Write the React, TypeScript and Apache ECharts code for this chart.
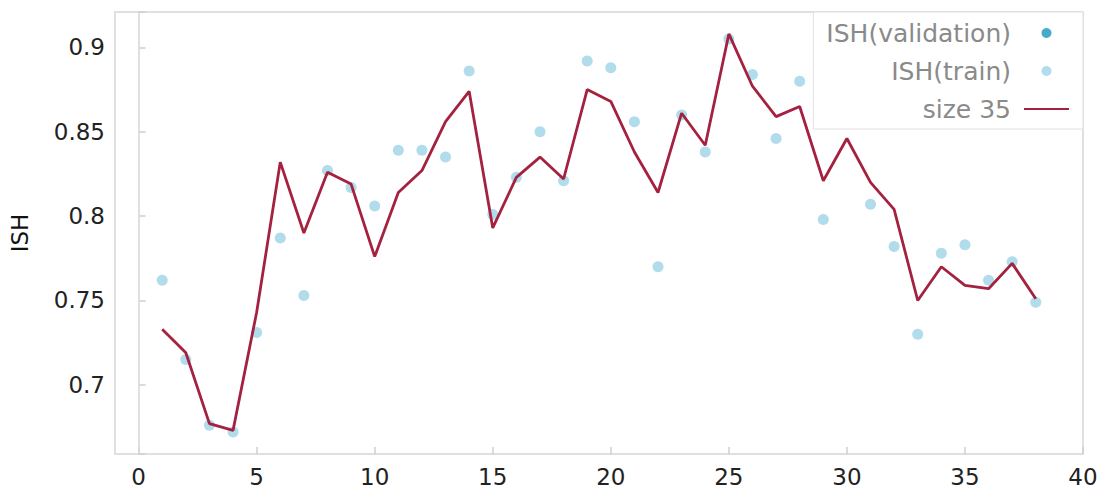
import React, { useEffect, useRef } from "react";
import * as echarts from "echarts";

const xValues = [1,2,3,4,5,6,7,8,9,10,11,12,13,14,15,16,17,18,19,20,21,22,23,24,25,26,27,28,29,30,31,32,33,34,35,36,37,38];
const trainValues = [0.762,0.715,0.676,0.672,0.731,0.787,0.753,0.827,0.817,0.806,0.839,0.839,0.835,0.886,0.801,0.823,0.850,0.821,0.892,0.888,0.856,0.770,0.860,0.838,0.905,0.884,0.846,0.880,0.798,0.855,0.807,0.782,0.730,0.778,0.783,0.762,0.773,0.749];
const size35Values = [0.733,0.719,0.677,0.673,0.743,0.832,0.790,0.826,0.819,0.776,0.814,0.827,0.856,0.874,0.793,0.823,0.835,0.822,0.875,0.868,0.838,0.814,0.861,0.842,0.908,0.877,0.859,0.865,0.821,0.846,0.820,0.804,0.750,0.770,0.759,0.757,0.772,0.751];
const validationValues: number[] = [];
const seriesNames = ["ISH(validation)", "ISH(train)", "size 35"];

const FONT = "'DejaVu Sans', Verdana, sans-serif";

export default function App() {
  const ref = useRef<HTMLDivElement>(null);
  useEffect(() => {
    if (!ref.current) return;
    const chart = echarts.init(ref.current, undefined, { renderer: "svg" });
    const pairs = (vals: number[]) => vals.map((v, i) => [xValues[i], v]);
    chart.setOption({
      animation: false,
      backgroundColor: "#ffffff",
      grid: {
        left: 112,
        right: 19,
        top: 12,
        bottom: 40,
        show: true,
        borderColor: "#d6d6d6",
        borderWidth: 1.5,
      },
      legend: {
        orient: "vertical",
        right: 19,
        top: 12,
        align: "right",
        padding: [8, 13, 7, 13],
        borderColor: "#e0e0e0",
        borderWidth: 1,
        backgroundColor: "#ffffff",
        itemWidth: 45,
        itemHeight: 10,
        itemGap: 12,
        textStyle: {
          fontFamily: FONT,
          fontSize: 25,
          color: "#8a8a8a",
          lineHeight: 26,
          padding: [0, 8, 0, 0],
        },
        data: [
          { name: seriesNames[0] },
          { name: seriesNames[1] },
          { name: seriesNames[2], itemStyle: { opacity: 0 } },
        ],
      },
      xAxis: {
        type: "value",
        min: -1,
        max: 40,
        splitNumber: 8,
        splitLine: { show: false },
        axisLine: { show: false },
        axisTick: { show: true, inside: true, length: 7, lineStyle: { color: "#cfcfcf", width: 1.5 } },
        axisLabel: {
          fontFamily: FONT,
          fontSize: 23,
          color: "#222222",
          margin: 11,
          showMinLabel: false,
          formatter: (v: number) => (v >= 0 && Math.abs(v % 5) < 1e-9 ? String(v) : ""),
        },
      },
      yAxis: {
        type: "value",
        min: 0.659,
        max: 0.921,
        splitNumber: 5,
        name: "ISH",
        nameLocation: "middle",
        nameGap: 84,
        nameTextStyle: { fontFamily: FONT, fontSize: 23, color: "#111111" },
        splitLine: { show: false },
        axisLine: { show: false },
        axisTick: { show: true, inside: true, length: 7, lineStyle: { color: "#cfcfcf", width: 1.5 } },
        axisLabel: {
          fontFamily: FONT,
          fontSize: 23,
          color: "#222222",
          margin: 10,
          formatter: (v: number) => {
            const k = v * 20;
            if (Math.abs(k - Math.round(k)) > 1e-6) return "";
            return String(Math.round(v * 100) / 100);
          },
        },
      },
      series: [
        {
          name: seriesNames[0],
          type: "scatter",
          data: pairs(validationValues),
          symbolSize: 10,
          itemStyle: { color: "#1597bd" },
        },
        {
          name: seriesNames[1],
          type: "scatter",
          data: pairs(trainValues),
          symbolSize: 11,
          itemStyle: { color: "#9ed3e6" },
          z: 2,
        },
        {
          name: seriesNames[2],
          type: "line",
          data: pairs(size35Values),
          showSymbol: false,
          symbol: "none",
          lineStyle: { color: "#a4213f", width: 2.8 },
          itemStyle: { color: "#a4213f" },
          z: 3,
          markLine: {
            silent: true,
            symbol: ["none", "none"],
            label: { show: false },
            lineStyle: { color: "#d6d6d6", type: "solid", width: 1.5 },
            data: [{ xAxis: 0 }],
            z: 1,
          },
        },
      ],
    });
    return () => chart.dispose();
  }, []);
  return (
    <div
      ref={ref}
      style={{ position: "fixed", left: 0, top: 0, width: 1102, height: 494 }}
    />
  );
}
